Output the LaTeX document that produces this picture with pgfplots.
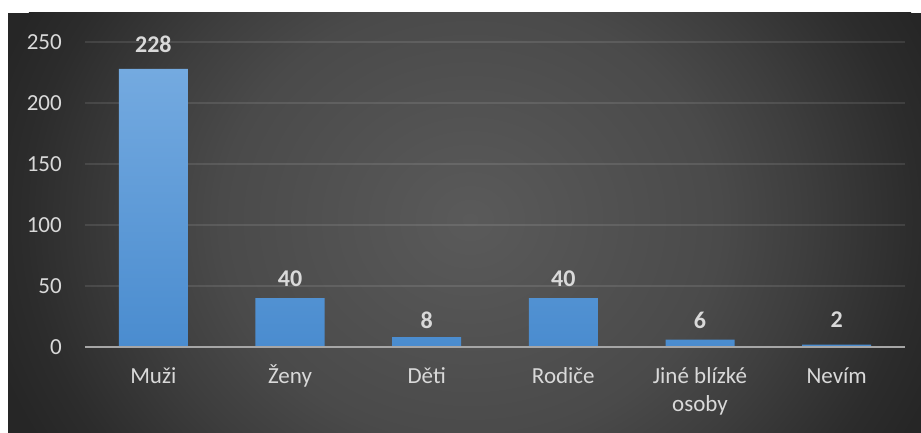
\documentclass[border=0pt]{standalone}
\usepackage{pgfplots}
\pgfplotsset{compat=1.18}
\usepackage{fontspec}
\setmainfont{Carlito}
\definecolor{c0}{HTML}{5A5A5A}
\definecolor{c1}{HTML}{4A4A4A}
\definecolor{c2}{HTML}{3E3E3E}
\definecolor{c3}{HTML}{2C2C2C}
\definecolor{c4}{HTML}{262626}
\definecolor{bartop}{HTML}{74AAE0}
\definecolor{barbot}{HTML}{4A8CCF}
\definecolor{txt}{HTML}{D9D9D9}
\definecolor{axisgray}{HTML}{A6A6A6}
\pgfdeclareradialshading{bgshade}{\pgfpointorigin}{color(0bp)=(c0); color(12.5bp)=(c1); color(16.75bp)=(c2); color(22.25bp)=(c3); color(25bp)=(c4); color(50bp)=(c4)}
\begin{document}
\begin{tikzpicture}[x=1pt,y=1pt]
\fill[white] (-10,-10) rectangle (940,432);
\begin{scope}
\clip (8,-20) rectangle (940,419);
\fill[c4] (8,-20) rectangle (940,419);
\shade[shading=bgshade] (470,212) ellipse (500 and 440);
\end{scope}
\begin{axis}[
  at={(85pt,85pt)}, anchor=south west,
  scale only axis, width=820pt, height=305pt,
  xmin=-0.5, xmax=5.5, ymin=0, ymax=250,
  xtick={0,...,5},
  xticklabels={\strut Muži, \strut Ženy, \strut Děti, \strut Rodiče, {\strut Jiné blízké\\osoby}, \strut Nevím},
  ytick={0,50,...,250},
  ymajorgrids,
  major grid style={white, opacity=0.1, line width=1.8pt},
  axis line style={draw=none},
  major tick length=0pt,
  tick style={draw=none},
  /pgf/number format/assume math mode=true,
  tick label style={font=\fontsize{23}{28}\selectfont, text=txt},
  x tick label style={align=center, anchor=north, inner sep=0pt, yshift=-16.4pt},
  y tick label style={anchor=east, inner sep=0pt, xshift=-23pt},
  clip=false,
]
\addplot[ybar, bar width=69pt, bar shift=0pt, draw=none, top color=bartop, bottom color=barbot]
  coordinates {(0,228) (1,40) (2,8) (3,40) (4,6) (5,2)};
\addplot[draw=none, nodes near coords, point meta=explicit,
  every node near coord/.append style={anchor=center, inner sep=0pt, font=\bfseries\fontsize{24}{28}\selectfont, text=txt}]
  coordinates {(0,248) [228] (1,56.1) [40] (2,22.1) [8] (3,56.1) [40] (4,22.1) [6] (5,22.1) [2]};
\draw[axisgray, line width=2pt] (rel axis cs:0,0) -- (rel axis cs:1,0);
\end{axis}
\pgfresetboundingbox
\useasboundingbox (0,0) rectangle (921,432);
\end{tikzpicture}
\end{document}
